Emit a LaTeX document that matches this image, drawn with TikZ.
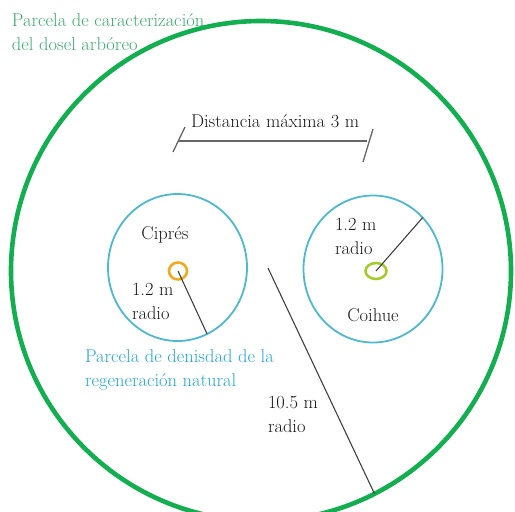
\documentclass[tikz,border=0pt]{standalone}
\usepackage{tikz}
\usetikzlibrary{shapes.geometric}
\definecolor{doselgreen}{HTML}{12AE50}
\definecolor{doseltext}{HTML}{3BAA72}
\definecolor{regenblue}{HTML}{4CB9CF}
\definecolor{regentext}{HTML}{23A7D2}
\definecolor{cipresring}{HTML}{F3AA1E}
\definecolor{coihuering}{HTML}{A5CB2B}
\tikzset{
  lbl/.style    ={font=\fontsize{18.5}{24.5}\selectfont, inner sep=0pt, outer sep=0pt,
                  align=left, anchor=north west, text=black!90},
  lblc/.style   ={lbl, anchor=base, align=center},
  bigplot/.style={circle, draw=doselgreen, line width=4.6pt, outer sep=0pt,
                  minimum size=500pt, inner sep=0pt},
  subplot/.style={ellipse, draw=regenblue, line width=1.8pt, outer sep=0pt,
                  minimum width=139pt, minimum height=147pt, inner sep=0pt},
  ring/.style   ={ellipse, line width=2.6pt, outer sep=0pt, inner sep=0pt},
  radline/.style={draw=black!75, line width=1.1pt},
  barline/.style={draw=black!60, line width=1.3pt},
}

\begin{document}
\begin{tikzpicture}[x=1pt,y=-1pt]
  \useasboundingbox (0,0) rectangle (515,512);
  \clip (0,0) rectangle (515,512);
  % plots
  \node[bigplot] (dosel) at (261,271) {};
  \node[subplot] (cipres) at (177.5,267.5) {};
  \node[subplot] (coihue) at (373,269) {};
  \node[ring, draw=cipresring, minimum width=18pt, minimum height=17pt] (ringc) at (178,271) {};
  \node[ring, draw=coihuering, minimum width=21pt, minimum height=16pt] (ringh) at (376,271) {};
  % radii
  \coordinate (dc) at (268,268);
  \draw[radline] (dc) -- (dosel.-63);
  \draw[radline] (ringc.center) -- (cipres.-66.5);
  \draw[radline] (ringh.center) -- (coihue.46);
  % maximum distance bar
  \coordinate (bl) at (178,141);
  \coordinate (br) at (367,141);
  \coordinate (bl1) at (173,152);
  \coordinate (bl2) at (185,127);
  \coordinate (br1) at (363,162);
  \coordinate (br2) at (373,129);
  \draw[barline] (bl) -- (br);
  \draw[barline] (bl1) -- (bl2);
  \draw[barline] (br1) -- (br2);
  % labels
  \node[lbl, text=doseltext] (tdosel) at (12,13.2) {Parcela de caracterización\\del dosel arbóreo};
  \node[lbl] (tdist) at (191,114.4) {Distancia máxima 3 m};
  \node[lblc] (tcipres) at (165,239) {Ciprés};
  \node[lbl] (tradc) at (132,283) {1.2 m\\radio};
  \node[lbl] (tradh) at (335,218) {1.2 m\\radio};
  \node[lblc] (tcoihue) at (373,321) {Coihue};
  \node[lbl, text=regentext] (tregen) at (85,349.2) {Parcela de denisdad de la\\regeneración natural};
  \node[lbl] (trad10) at (268,396) {10.5 m\\radio};
\end{tikzpicture}
\end{document}
